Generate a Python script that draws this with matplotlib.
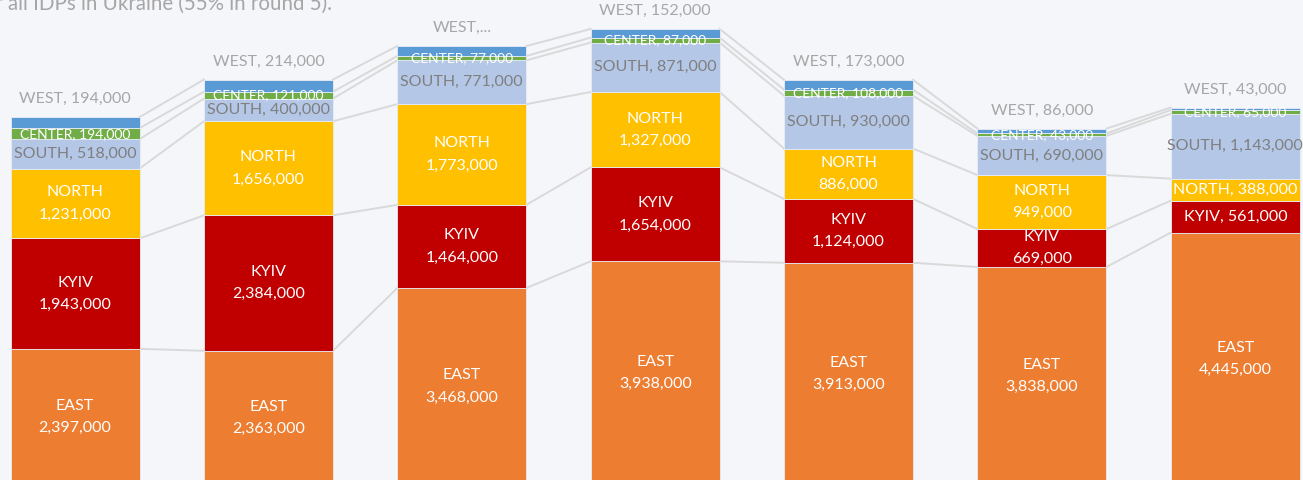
import numpy as np
import matplotlib
matplotlib.use('Agg')
import matplotlib.pyplot as plt

plt.rcParams['font.family'] = ['Lato', 'DejaVu Sans']

# values in thousands, one per round
east = [2397, 2363, 3468, 3938, 3913, 3838, 4445]
kyiv = [1943, 2384, 1464, 1654, 1124, 669, 561]
north = [1231, 1656, 1773, 1327, 886, 949, 388]
south = [518, 400, 771, 871, 930, 690, 1143]
center = [194, 121, 77, 87, 108, 43, 65]
west = [194, 214, 175, 152, 173, 86, 43]
west_labels = ['WEST, 194,000', 'WEST, 214,000', 'WEST,...', 'WEST, 152,000',
               'WEST, 173,000', 'WEST, 86,000', 'WEST, 43,000']

names = ['EAST', 'KYIV', 'NORTH', 'SOUTH', 'CENTER', 'WEST']
series = [east, kyiv, north, south, center, west]
colors = ['#ED7D31', '#C00000', '#FFC000', '#B4C7E7', '#70AD47', '#5B9BD5']

bg = '#F5F6FA'
fig = plt.figure(figsize=(13.03, 4.8), dpi=100, facecolor=bg)
ax = fig.add_axes([0, 0, 1, 1])
ax.set_facecolor(bg)

x = np.arange(len(east))
w = 0.667
bottom = np.zeros(len(east))
tops = []
for name, vals, col in zip(names, series, colors):
    vals = np.array(vals, dtype=float)
    ax.bar(x, vals, w, bottom=bottom, color=col, edgecolor='#E8ECF5', linewidth=0.6, zorder=2)
    mids = bottom + vals / 2
    for i, v in enumerate(vals):
        s = f'{int(v) * 1000:,}'
        if name in ('EAST', 'KYIV', 'NORTH'):
            if i == 6 and name != 'EAST':
                txt = f'{name}, {s}'
            else:
                txt = f'{name}\n{s}'
            ax.text(x[i], mids[i], txt, ha='center', va='center', color='white',
                    fontsize=11.5, linespacing=1.75, zorder=4)
        elif name == 'SOUTH':
            ax.text(x[i], mids[i], f'{name}, {s}', ha='center', va='center',
                    color='#7F7F7F', fontsize=11.5, zorder=4)
        elif name == 'CENTER':
            ax.text(x[i], mids[i] - 5, f'{name}, {s}', ha='center', va='center',
                    color='white', fontsize=10, zorder=4)
        else:
            ax.text(x[i], bottom[i] + v + 195, west_labels[i], ha='center', va='bottom',
                    color='#A6A6A6', fontsize=11.5, zorder=4)
    bottom = bottom + vals
    tops.append(bottom.copy())

# series lines between bars
for t in tops:
    for i in range(len(x) - 1):
        ax.plot([x[i] + w / 2, x[i + 1] - w / 2], [t[i], t[i + 1]],
                color='#D9D9D9', linewidth=1.4, zorder=1)

ax.set_xlim(-0.388, 6.35)
ax.set_ylim(88, 8539)
ax.axis('off')

fig.text(0.255, 0.979, 'of all IDPs in Ukraine (55% in round 5).', ha='right',
         va='baseline', color='#A6A6A6', fontsize=14.8)

fig.savefig('out.png', dpi=100, facecolor=bg)
